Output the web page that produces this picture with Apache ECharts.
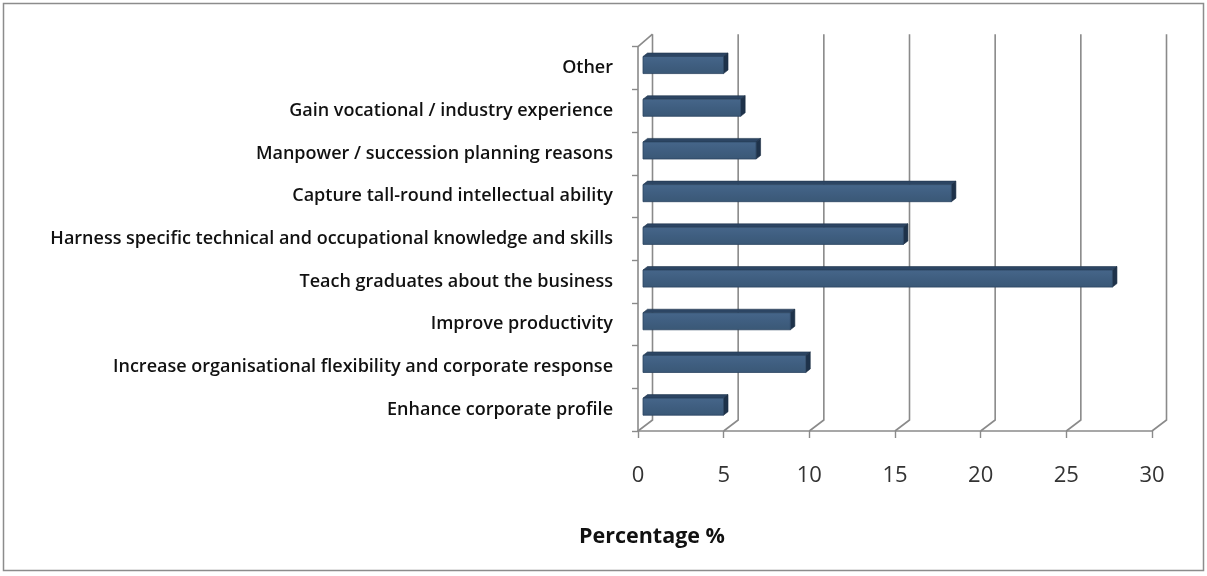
<!DOCTYPE html>
<html>
<head>
<meta charset="utf-8">
<script src="https://cdn.jsdelivr.net/npm/echarts@6/dist/echarts.min.js"></script>
<style>
html,body{margin:0;padding:0;background:#fff;}
#chart{width:1207px;height:576px;}
</style>
</head>
<body>
<div id="chart"></div>
<script>
// Categories listed bottom to top
const categories = [
  "Enhance corporate profile",
  "Increase organisational flexibility and corporate response",
  "Improve productivity",
  "Teach graduates about the business",
  "Harness specific technical and occupational knowledge and skills",
  "Capture tall-round intellectual ability",
  "Manpower / succession planning reasons",
  "Gain vocational / industry experience",
  "Other"
];
const percentages = [4.7, 9.5, 8.6, 27.4, 15.2, 18.0, 6.6, 5.7, 4.7];
const xTicks = [0, 5, 10, 15, 20, 25, 30];
const axisTitle = "Percentage %";

const chart = echarts.init(document.getElementById('chart'), null, {renderer: 'canvas'});

const barData = percentages.map((v, i) => [v, i]);
const gridData = xTicks.map(t => [t, 0]);

// 3D depth offsets
const DX = 14.5, DY = -11;      // back wall offset
const BX = 5, BY = -3;           // bar front face offset
const SX = 4.5, SY = -3.5;       // bar depth

function renderBar(params, api) {
  const v = api.value(0), c = api.value(1);
  const p0 = api.coord([0, c]);
  const p1 = api.coord([v, c]);
  const band = api.size([0, 1])[1];
  const h = band * 0.40;
  const x0 = p0[0] + BX, x1 = p1[0] + BX;
  const yT = p0[1] + BY - h / 2, yB = p0[1] + BY + h / 2;
  return {
    type: 'group',
    children: [
      {type: 'polygon', shape: {points: [[x0, yT], [x1, yT], [x1 + SX, yT + SY], [x0 + SX, yT + SY]]},
        style: {fill: '#2c4563', stroke: '#22384f', lineWidth: 0.6}},
      {type: 'polygon', shape: {points: [[x1, yT], [x1 + SX, yT + SY], [x1 + SX, yB + SY], [x1, yB]]},
        style: {fill: '#1e324a', stroke: '#1a2c42', lineWidth: 0.6}},
      {type: 'rect', shape: {x: x0, y: yT, width: x1 - x0, height: yB - yT},
        style: {fill: new echarts.graphic.LinearGradient(0, 0, 0, 1, [
          {offset: 0, color: '#46668a'}, {offset: 0.5, color: '#3f5e80'}, {offset: 1, color: '#3a5876'}]),
          stroke: '#2b4461', lineWidth: 0.8}}
    ]
  };
}

function renderGrid(params, api) {
  const cs = params.coordSys;
  const t = api.value(0);
  const x = api.coord([t, 0])[0];
  const top = cs.y, bottom = cs.y + cs.height;
  const children = [{
    type: 'polyline',
    shape: {points: [[x + DX, top - 12.5], [x + DX, bottom + DY], [x, bottom]]},
    style: {stroke: '#8a8a8a', lineWidth: 1.6, fill: null}
  }];
  if (t === 0) {
    children.push({
      type: 'line',
      shape: {x1: x, y1: top, x2: x + DX, y2: top - 12.5},
      style: {stroke: '#8a8a8a', lineWidth: 1.6}
    });
  }
  return {type: 'group', children: children};
}

const option = {
  backgroundColor: '#ffffff',
  animation: false,
  grid: {left: 638, right: 55, top: 46.7, bottom: 145, containLabel: false},
  xAxis: {
    type: 'value', min: 0, max: 30, interval: 5,
    axisLine: {show: true, lineStyle: {color: '#8a8a8a', width: 1.6}},
    axisTick: {show: true, length: 7, lineStyle: {color: '#8a8a8a', width: 1.4}},
    axisLabel: {margin: 34, fontFamily: 'Open Sans', fontSize: 22, color: '#333333'},
    splitLine: {show: false}
  },
  yAxis: {
    type: 'category', data: categories,
    axisLine: {show: true, lineStyle: {color: '#8a8a8a', width: 1.6}},
    axisTick: {show: true, length: 6, lineStyle: {color: '#8a8a8a', width: 1.4}},
    axisLabel: {margin: 25, fontFamily: 'Open Sans', fontSize: 18, fontWeight: 600, color: '#111111'},
    splitLine: {show: false}
  },
  graphic: [
    {type: 'rect', shape: {x: 3.5, y: 3.5, width: 1200, height: 567}, style: {fill: null, stroke: '#8c8c8c', lineWidth: 1.5}, z: 100},
    {type: 'text', x: 652, y: 537, style: {text: axisTitle, fontFamily: 'Open Sans', fontSize: 21.5, fontWeight: 'bold', fill: '#111111', align: 'center', verticalAlign: 'middle'}}
  ],
  series: [
    {type: 'custom', name: 'grid', renderItem: renderGrid, data: gridData, clip: false, z: 1, silent: true, encode: {x: 0, y: 1}},
    {type: 'custom', name: 'Percentage', renderItem: renderBar, data: barData, clip: false, z: 5, encode: {x: 0, y: 1}}
  ]
};
chart.setOption(option);
</script>
</body>
</html>
